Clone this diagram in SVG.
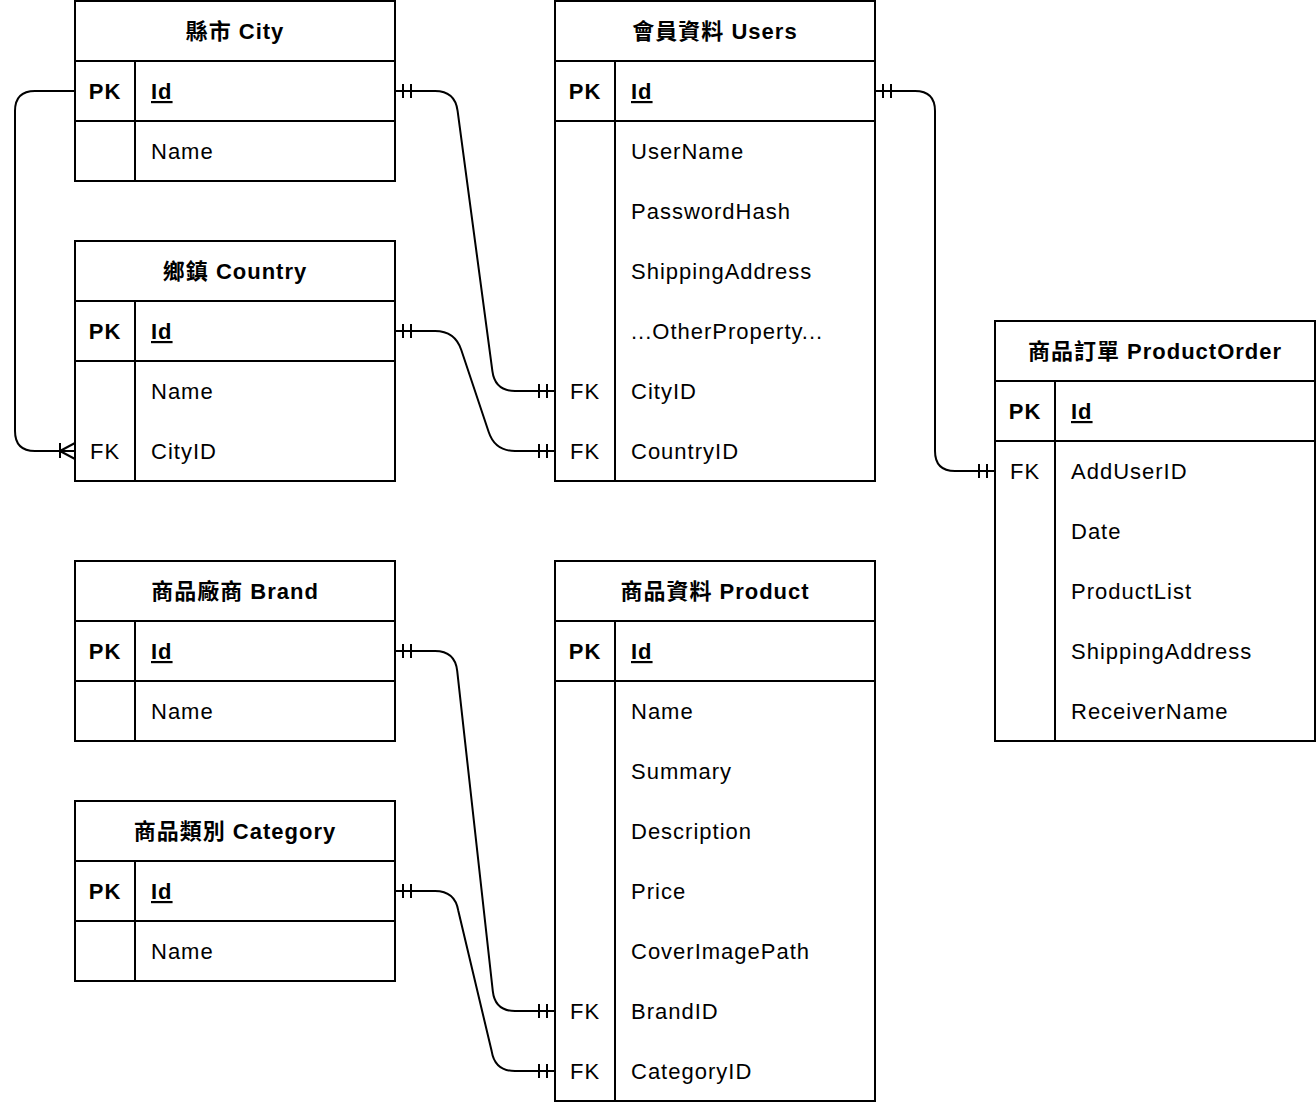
<svg xmlns="http://www.w3.org/2000/svg" width="1316" height="1102" viewBox="0 0 1316 1102">
<style>
.box{fill:#fff;stroke:#000;stroke-width:2}
.ln{stroke:#000;stroke-width:2;fill:none}
text{font-family:"Liberation Sans","Noto Sans CJK TC",sans-serif;font-size:22px;letter-spacing:1px;fill:#000}
.t{font-weight:bold;text-anchor:middle}
.k{font-weight:bold;text-anchor:middle}
.f{text-anchor:middle}
.id{font-weight:bold;text-decoration:underline}
.c{stroke:#000;stroke-width:2;fill:none}
</style>
<rect width="1316" height="1102" fill="#fff"/>
<g id="connectors">
<path class="c" d="M395,91 L435,91 Q455,91 457.6,110.8 L492.4,371.2 Q495,391 515,391 L555,391"/>
<path class="c" d="M403,84 v14 M411,84 v14 M539,384 v14 M547,384 v14"/>
<path class="c" d="M395,331 L435,331 Q455,331 461.3,350 L488.7,432 Q495,451 515,451 L555,451"/>
<path class="c" d="M403,324 v14 M411,324 v14 M539,444 v14 M547,444 v14"/>
<path class="c" d="M875,91 L915,91 Q935,91 935,111 L935,451 Q935,471 955,471 L995,471"/>
<path class="c" d="M883,84 v14 M891,84 v14 M979,464 v14 M987,464 v14"/>
<path class="c" d="M395,651 L435,651 Q455,651 457.2,670.9 L492.8,991.1 Q495,1011 515,1011 L555,1011"/>
<path class="c" d="M403,644 v14 M411,644 v14 M539,1004 v14 M547,1004 v14"/>
<path class="c" d="M395,891 L435,891 Q455,891 458.3,910.7 L491.7,1051.3 Q495,1071 515,1071 L555,1071"/>
<path class="c" d="M403,884 v14 M411,884 v14 M539,1064 v14 M547,1064 v14"/>
<path class="c" d="M75,91 L35,91 Q15,91 15,111 L15,431 Q15,451 35,451 L75,451"/>
<path class="c" d="M60,443 v15 M60,451 L75,443 M60,451 L75,459"/>
</g>
<g id="city">
<rect class="box" x="75" y="1" width="320" height="180"/>
<path class="ln" d="M75,61 H395 M75,121 H395 M135,61 V181"/>
<text class="t" x="235" y="39">縣市 City</text>
<text class="k" x="105" y="99">PK</text>
<text class="id" x="151" y="99">Id</text>
<text x="151" y="159">Name</text>
</g>
<g id="country">
<rect class="box" x="75" y="241" width="320" height="240"/>
<path class="ln" d="M75,301 H395 M75,361 H395 M135,301 V481"/>
<text class="t" x="235" y="279">鄉鎮 Country</text>
<text class="k" x="105" y="339">PK</text>
<text class="id" x="151" y="339">Id</text>
<text x="151" y="399">Name</text>
<text class="f" x="105" y="459">FK</text>
<text x="151" y="459">CityID</text>
</g>
<g id="users">
<rect class="box" x="555" y="1" width="320" height="480"/>
<path class="ln" d="M555,61 H875 M555,121 H875 M615,61 V481"/>
<text class="t" x="715" y="39">會員資料 Users</text>
<text class="k" x="585" y="99">PK</text>
<text class="id" x="631" y="99">Id</text>
<text x="631" y="159">UserName</text>
<text x="631" y="219">PasswordHash</text>
<text x="631" y="279">ShippingAddress</text>
<text x="631" y="339">...OtherProperty...</text>
<text class="f" x="585" y="399">FK</text>
<text x="631" y="399">CityID</text>
<text class="f" x="585" y="459">FK</text>
<text x="631" y="459">CountryID</text>
</g>
<g id="productorder">
<rect class="box" x="995" y="321" width="320" height="420"/>
<path class="ln" d="M995,381 H1315 M995,441 H1315 M1055,381 V741"/>
<text class="t" x="1155" y="359">商品訂單 ProductOrder</text>
<text class="k" x="1025" y="419">PK</text>
<text class="id" x="1071" y="419">Id</text>
<text class="f" x="1025" y="479">FK</text>
<text x="1071" y="479">AddUserID</text>
<text x="1071" y="539">Date</text>
<text x="1071" y="599">ProductList</text>
<text x="1071" y="659">ShippingAddress</text>
<text x="1071" y="719">ReceiverName</text>
</g>
<g id="brand">
<rect class="box" x="75" y="561" width="320" height="180"/>
<path class="ln" d="M75,621 H395 M75,681 H395 M135,621 V741"/>
<text class="t" x="235" y="599">商品廠商 Brand</text>
<text class="k" x="105" y="659">PK</text>
<text class="id" x="151" y="659">Id</text>
<text x="151" y="719">Name</text>
</g>
<g id="category">
<rect class="box" x="75" y="801" width="320" height="180"/>
<path class="ln" d="M75,861 H395 M75,921 H395 M135,861 V981"/>
<text class="t" x="235" y="839">商品類別 Category</text>
<text class="k" x="105" y="899">PK</text>
<text class="id" x="151" y="899">Id</text>
<text x="151" y="959">Name</text>
</g>
<g id="product">
<rect class="box" x="555" y="561" width="320" height="540"/>
<path class="ln" d="M555,621 H875 M555,681 H875 M615,621 V1101"/>
<text class="t" x="715" y="599">商品資料 Product</text>
<text class="k" x="585" y="659">PK</text>
<text class="id" x="631" y="659">Id</text>
<text x="631" y="719">Name</text>
<text x="631" y="779">Summary</text>
<text x="631" y="839">Description</text>
<text x="631" y="899">Price</text>
<text x="631" y="959">CoverImagePath</text>
<text class="f" x="585" y="1019">FK</text>
<text x="631" y="1019">BrandID</text>
<text class="f" x="585" y="1079">FK</text>
<text x="631" y="1079">CategoryID</text>
</g>
</svg>
